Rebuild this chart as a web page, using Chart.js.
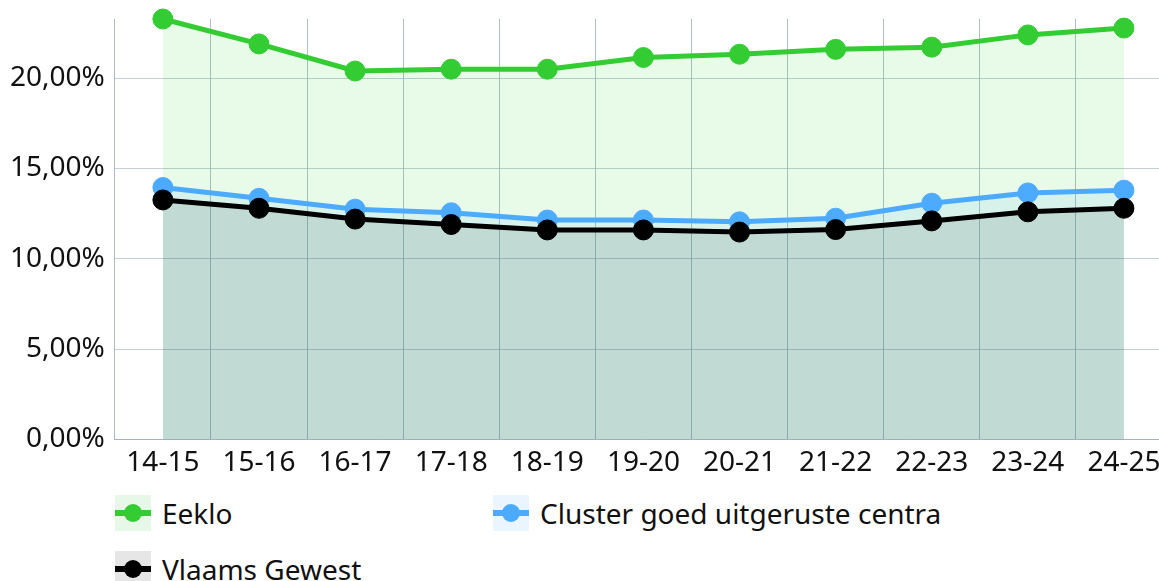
<!DOCTYPE html>
<html>
<head>
<meta charset="utf-8">
<script src="https://cdn.jsdelivr.net/npm/chart.js@4.4.1/dist/chart.umd.min.js"></script>
<style>
  body { margin: 0; background: #fff; overflow: hidden; }
  #wrap { position: relative; width: 1183px; height: 487px; }
  .legend { position: absolute; left: 0; top: 0; font-family: "Noto Sans", sans-serif; font-size: 28px; color: #111; }
  .item { position: absolute; display: flex; align-items: center; white-space: nowrap; }
  .mark { position: relative; width: 36px; height: 36px; margin-right: 11px; }
  .mark .ln { position: absolute; left: 0; right: 0; top: 15px; height: 6px; }
  .mark .dot { position: absolute; left: 9px; top: 9px; width: 18px; height: 18px; border-radius: 50%; }
</style>
</head>
<body>
<div id="wrap"><canvas id="chart"></canvas></div>
<div class="legend" id="legend"></div>
<script>
var labels = ['14-15','15-16','16-17','17-18','18-19','19-20','20-21','21-22','22-23','23-24','24-25'];
var eeklo = [23.28, 21.9, 20.4, 20.5, 20.5, 21.15, 21.33, 21.6, 21.72, 22.4, 22.78];
var cluster = [13.95, 13.35, 12.75, 12.55, 12.15, 12.15, 12.05, 12.25, 13.08, 13.65, 13.8];
var vlaams = [13.26, 12.8, 12.2, 11.9, 11.6, 11.6, 11.48, 11.62, 12.1, 12.6, 12.8];
var names = ['Eeklo', 'Cluster goed uitgeruste centra', 'Vlaams Gewest'];
var lineColors = ['#33cc33', '#4dabff', '#000000'];
var fillColors = ['rgba(50,205,50,0.11)', 'rgba(77,171,255,0.11)', 'rgba(0,0,0,0.1)'];

Chart.defaults.font.family = '"Noto Sans", sans-serif';
Chart.defaults.font.size = 28;
Chart.defaults.color = '#111';

function ds(i, data, order) {
  return {
    label: names[i],
    data: data,
    borderColor: lineColors[i],
    backgroundColor: fillColors[i],
    pointBackgroundColor: lineColors[i],
    pointBorderColor: lineColors[i],
    borderWidth: 5,
    pointRadius: 10,
    pointBorderWidth: 1,
    tension: 0,
    fill: 'origin',
    clip: false,
    order: order
  };
}

var ctx = document.getElementById('chart').getContext('2d');
var chart = new Chart(ctx, {
  type: 'line',
  data: {
    labels: labels,
    datasets: [ds(0, eeklo, 2), ds(1, cluster, 1), ds(2, vlaams, 0)]
  },
  options: {
    responsive: false,
    maintainAspectRatio: false,
    animation: false,
    layout: { padding: { top: 19, left: 0, right: 3, bottom: 0 } },
    plugins: { legend: { display: false }, tooltip: { enabled: false } },
    scales: {
      x: {
        offset: true,
        grid: { offset: true, color: 'rgba(150,168,182,0.75)', drawTicks: false },
        border: { color: 'rgba(150,168,182,0.75)' },
        ticks: { padding: 7, maxRotation: 0, autoSkip: false }
      },
      y: {
        beginAtZero: true,
        max: Math.max.apply(null, eeklo),
        afterBuildTicks: function (axis) {
          axis.ticks = axis.ticks.filter(function (t) { return t.value % 5 === 0; });
        },
        afterFit: function (axis) { axis.paddingTop = 0; },
        grid: { color: 'rgba(170,185,198,0.7)', drawTicks: false },
        border: { color: 'rgba(170,185,198,0.7)' },
        ticks: {
          stepSize: 5,
          padding: 10,
          callback: function (v) { return v.toFixed(2).replace('.', ',') + '%'; }
        }
      }
    }
  }
});
chart.canvas.style.width = '1183px';
chart.canvas.style.height = '487px';
chart.resize(1183, 487);

var legend = document.getElementById('legend');
var pos = [[115, 494], [493, 494], [115, 550]];
var bg = ['#e8f8e8', '#eaf5ff', '#e6e6e6'];
for (var i = 0; i < names.length; i++) {
  var it = document.createElement('div');
  it.className = 'item';
  it.style.left = pos[i][0] + 'px';
  it.style.top = pos[i][1] + 'px';
  it.innerHTML = '<div class="mark" style="background:' + bg[i] + '"><div class="ln" style="background:' + lineColors[i] +
    '"></div><div class="dot" style="background:' + lineColors[i] + '"></div></div><span>' + names[i] + '</span>';
  legend.appendChild(it);
}
</script>
</body>
</html>
